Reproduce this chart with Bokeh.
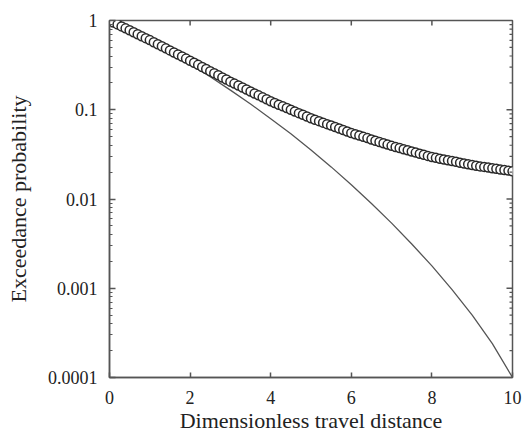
import math
from bokeh.plotting import figure
from bokeh.models import Range1d, FixedTicker
from bokeh.embed import file_html
from bokeh.resources import INLINE

# Circles: exceedance probability read at every 0.1 of travel distance
circle_x = [round(0.1 * i, 1) for i in range(101)]
circle_p = [
    1.0, 0.951, 0.904, 0.859, 0.817, 0.776, 0.738, 0.701, 0.667, 0.634, 0.603,
    0.5715, 0.542, 0.514, 0.4875, 0.4624, 0.4385, 0.4159, 0.3945, 0.3741, 0.3548,
    0.3361, 0.3184, 0.3016, 0.2857, 0.2707, 0.2564, 0.243, 0.2301, 0.218, 0.2065,
    0.1963, 0.1866, 0.1774, 0.1686, 0.1603, 0.1524, 0.1449, 0.1377, 0.1309, 0.1245,
    0.1191, 0.114, 0.1092, 0.1045, 0.1, 0.0957, 0.0916, 0.0877, 0.0839, 0.0804,
    0.0774, 0.0745, 0.0717, 0.069, 0.0665, 0.064, 0.0616, 0.0593, 0.0571, 0.055,
    0.0531, 0.0514, 0.0497, 0.0481, 0.0465, 0.045, 0.0435, 0.0421, 0.0407, 0.0394,
    0.0383, 0.0372, 0.0361, 0.0351, 0.0341, 0.0331, 0.0322, 0.0313, 0.0304, 0.0295,
    0.0289, 0.0283, 0.0277, 0.0272, 0.0266, 0.0261, 0.0255, 0.025, 0.0245, 0.024,
    0.0236, 0.0232, 0.0229, 0.0225, 0.0221, 0.0218, 0.0214, 0.0211, 0.0208, 0.0204,
]

# Solid curve
line_x = [0, 0.5, 1, 1.5, 2, 2.5, 3, 3.5, 4, 4.5, 5, 5.5, 6, 6.5, 7, 7.5, 8, 8.5, 9, 9.5, 10]
line_p = [1.0, 0.776, 0.589, 0.4416, 0.3236, 0.2344, 0.166, 0.1161, 0.0794, 0.0537,
          0.0355, 0.0229, 0.01445, 0.00891, 0.00537, 0.00313, 0.00178, 0.000966,
          0.000501, 0.00024, 0.0001]

x_ticks = [0, 2, 4, 6, 8, 10]
y_ticks = [0.0001, 0.001, 0.01, 0.1, 1]
y_tick_labels = {0.0001: "0.0001", 0.001: "0.001", 0.01: "0.01", 0.1: "0.1", 1: "1"}
y_minor = [m * 10.0 ** e for e in (-4, -3, -2, -1) for m in range(2, 10)]

FONT = "Liberation Serif"
AX = "#555555"
TXT = "#222222"

p = figure(width=525, height=439, output_backend="svg", toolbar_location=None,
           y_axis_type="log", x_range=Range1d(0, 10), y_range=Range1d(0.0001, 1),
           frame_width=403, frame_height=357,
           min_border_left=109, min_border_right=13, min_border_top=20, min_border_bottom=62)
p.grid.visible = False
p.outline_line_color = AX
p.outline_line_width = 1.5
p.background_fill_color = "white"
p.border_fill_color = "white"

p.line(line_x, line_p, line_color="#555555", line_width=1.3)
p.scatter(circle_x, circle_p, marker="circle", size=9, fill_color="white",
          line_color="#2a2a2a", line_width=1.5)

# mirrored inward ticks on the top and right frame edges
p.ray(x=x_ticks[1:-1], y=[1] * (len(x_ticks) - 2), length=5, length_units="screen",
      angle=-math.pi / 2, line_color=AX, line_width=1.5)
p.ray(x=[10] * (len(y_ticks) - 2), y=y_ticks[1:-1], length=6, length_units="screen",
      angle=math.pi, line_color=AX, line_width=1.5)
p.ray(x=[10] * len(y_minor), y=y_minor, length=3, length_units="screen",
      angle=math.pi, line_color=AX, line_width=1.2)


def style(ax):
    ax.axis_line_color = AX
    ax.axis_line_width = 1.5
    ax.major_tick_line_color = AX
    ax.minor_tick_line_color = AX
    ax.major_tick_line_width = 1.5
    ax.major_tick_in = 6
    ax.major_tick_out = 0
    ax.minor_tick_in = 3
    ax.minor_tick_out = 0
    ax.major_label_text_font = FONT
    ax.major_label_text_color = TXT
    ax.major_label_text_font_size = "18px"
    ax.axis_label_text_font = FONT
    ax.axis_label_text_font_style = "normal"
    ax.axis_label_text_color = TXT
    ax.axis_label_text_font_size = "22px"


xa = p.xaxis[0]
xa.ticker = FixedTicker(ticks=x_ticks)
style(xa)
xa.major_tick_in = 5
xa.minor_tick_line_color = None
xa.major_label_standoff = 13
xa.axis_label = "Dimensionless travel distance"
xa.axis_label_standoff = 1

ya = p.yaxis[0]
ya.major_label_overrides = y_tick_labels
style(ya)
ya.major_label_standoff = 12
ya.axis_label = "Exceedance probability"
ya.axis_label_standoff = 14

open("out.html", "w").write(file_html(p, INLINE))
